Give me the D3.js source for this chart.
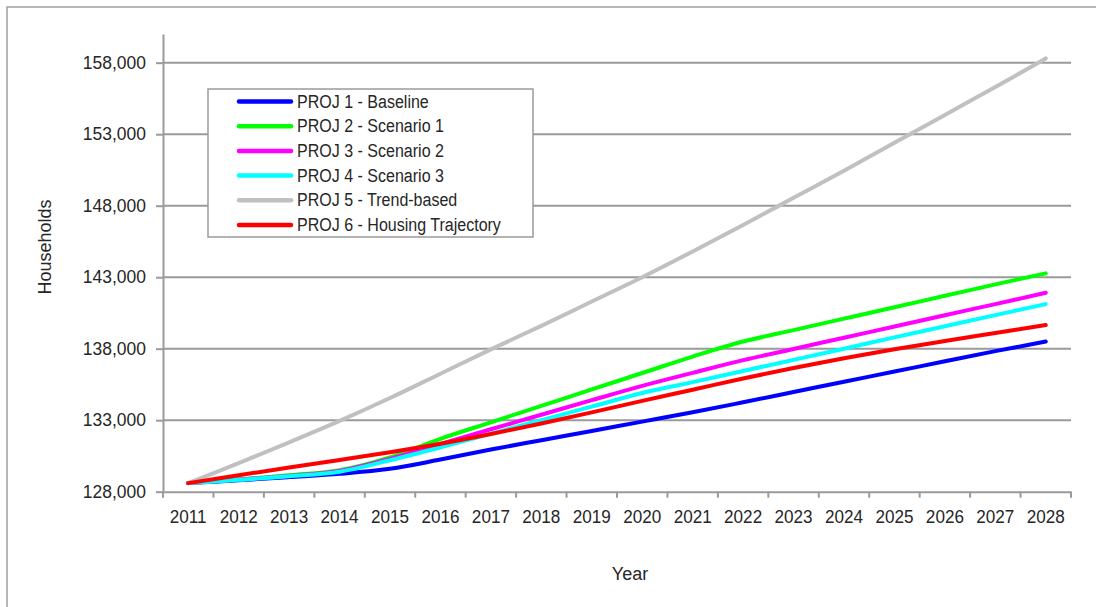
<!DOCTYPE html>
<html>
<head>
<meta charset="utf-8">
<script src="https://cdn.jsdelivr.net/npm/d3@7"></script>
<style>
  html, body { margin: 0; padding: 0; background: #fff; }
  svg { display: block; font-family: "Liberation Sans", Arial, sans-serif; }
</style>
</head>
<body>
<svg id="chart" width="1096" height="607"></svg>
<script>
// ---- data ----
const years = ["2011","2012","2013","2014","2015","2016","2017","2018","2019","2020",
               "2021","2022","2023","2024","2025","2026","2027","2028"];
const seriesNames = ["PROJ 1 - Baseline","PROJ 2 - Scenario 1","PROJ 3 - Scenario 2",
                     "PROJ 4 - Scenario 3","PROJ 5 - Trend-based","PROJ 6 - Housing Trajectory"];
const proj1 = [128600,128800,129020,129250,129600,130250,130950,131600,132250,132900,
               133550,134250,134970,135690,136400,137120,137830,138500];
const proj2 = [128600,128850,129150,129500,130400,131700,132850,134000,135150,136300,
               137450,138500,139300,140100,140900,141700,142500,143270];
const proj3 = [128600,128850,129100,129450,130300,131350,132370,133380,134400,135400,
               136310,137200,137980,138770,139550,140340,141120,141910];
const proj4 = [128600,128830,129080,129400,130200,131100,132050,133000,133950,134900,
               135660,136440,137220,138000,138790,139570,140350,141120];
const proj5 = [128600,130000,131450,132950,134550,136250,137950,139600,141300,143000,
               144800,146650,148550,150450,152400,154350,156300,158300];
const proj6 = [128600,129150,129690,130220,130760,131350,132030,132770,133550,134350,
               135130,135920,136650,137330,137960,138540,139100,139660];
const yTicks = [128000,133000,138000,143000,148000,153000,158000];
const colors = ["#0000ff","#00ff00","#ff00ff","#00ffff","#c0c0c0","#ff0000"];

const allSeries = [proj1, proj2, proj3, proj4, proj5, proj6];

// ---- layout ----
(function draw() {
const svg = d3.select("#chart");
const pL = 163, pR = 1071, pT = 34.1, pB = 491.7;
const x = d3.scaleBand().domain(years).range([pL, pR]);
const y = d3.scaleLinear().domain([128000, 160000]).range([pB, pT]);
const cx = d => x(d) + x.bandwidth() / 2;
const gridCol = "#9a9a9a";
const textCol = "#262626";

// outer border (only top/left visible)
svg.append("rect").attr("x", 7).attr("y", 7).attr("width", 1300).attr("height", 800)
  .attr("fill", "none").attr("stroke", "#a0a0a0").attr("stroke-width", 1.5);

// gridlines
svg.append("g").selectAll("line").data(yTicks.slice(1)).join("line")
  .attr("x1", pL).attr("x2", pR)
  .attr("y1", d => y(d)).attr("y2", d => y(d))
  .attr("stroke", gridCol).attr("stroke-width", 2);

// y axis
const yAxis = svg.append("g").attr("transform", `translate(${pL},0)`)
  .call(d3.axisLeft(y).tickValues(yTicks).tickFormat(d3.format(",")).tickSize(7).tickSizeOuter(0).tickPadding(10));
yAxis.select(".domain").attr("stroke", gridCol).attr("stroke-width", 2);
yAxis.selectAll(".tick line").attr("stroke", gridCol).attr("stroke-width", 2);
yAxis.selectAll(".tick text").attr("fill", textCol).attr("font-size", 18)
  .attr("font-family", "Liberation Sans, Arial, sans-serif");

// x axis
const xAxis = svg.append("g").attr("transform", `translate(0,${pB})`)
  .call(d3.axisBottom(x).tickSize(0).tickSizeOuter(0).tickPadding(19));
xAxis.select(".domain").attr("stroke", gridCol).attr("stroke-width", 2);
xAxis.selectAll(".tick text").attr("fill", textCol).attr("font-size", 18)
  .attr("font-family", "Liberation Sans, Arial, sans-serif");
// boundary ticks
const bounds = years.map(d => x(d)).concat([pR]);
xAxis.append("g").selectAll("line").data(bounds).join("line")
  .attr("x1", d => d).attr("x2", d => d).attr("y1", 0).attr("y2", 6)
  .attr("stroke", gridCol).attr("stroke-width", 2);

// axis titles
svg.append("text").attr("transform", "translate(51,247) rotate(-90)")
  .attr("text-anchor", "middle").attr("font-size", 18).attr("fill", textCol).text("Households");
svg.append("text").attr("x", 630).attr("y", 580)
  .attr("text-anchor", "middle").attr("font-size", 18).attr("fill", textCol).text("Year");

// lines
const line = d3.line().x((d, i) => cx(years[i])).y(d => y(d)).curve(d3.curveCatmullRom.alpha(0.5));
svg.append("g").selectAll("path").data(allSeries).join("path")
  .attr("d", d => line(d))
  .attr("fill", "none")
  .attr("stroke", (d, i) => colors[i])
  .attr("stroke-width", 4)
  .attr("stroke-linecap", "round")
  .attr("stroke-linejoin", "round");

// legend
const lg = svg.append("g");
lg.append("rect").attr("x", 208).attr("y", 89).attr("width", 325).attr("height", 148)
  .attr("fill", "#fff").attr("stroke", gridCol).attr("stroke-width", 1.5);
const rows = lg.selectAll("g.row").data(seriesNames).join("g").attr("class", "row")
  .attr("transform", (d, i) => `translate(0,${101.5 + i * 24.7})`);
rows.append("line").attr("x1", 239).attr("x2", 291).attr("y1", 0).attr("y2", 0)
  .attr("stroke", (d, i) => colors[i]).attr("stroke-width", 4.5).attr("stroke-linecap", "round");
rows.append("text").attr("x", 297).attr("y", 6).attr("font-size", 18).attr("fill", textCol)
  .attr("class", "lgtext").text(d => d);

// compress text horizontally to match narrow rendering
function squeeze(sel, f) {
  sel.each(function() {
    const w = this.getComputedTextLength();
    d3.select(this).attr("textLength", w * f).attr("lengthAdjust", "spacingAndGlyphs");
  });
}
squeeze(lg.selectAll("text.lgtext"), 0.89);
squeeze(yAxis.selectAll(".tick text"), 0.97);
squeeze(xAxis.selectAll(".tick text"), 0.95);
})();
</script>
</body>
</html>
